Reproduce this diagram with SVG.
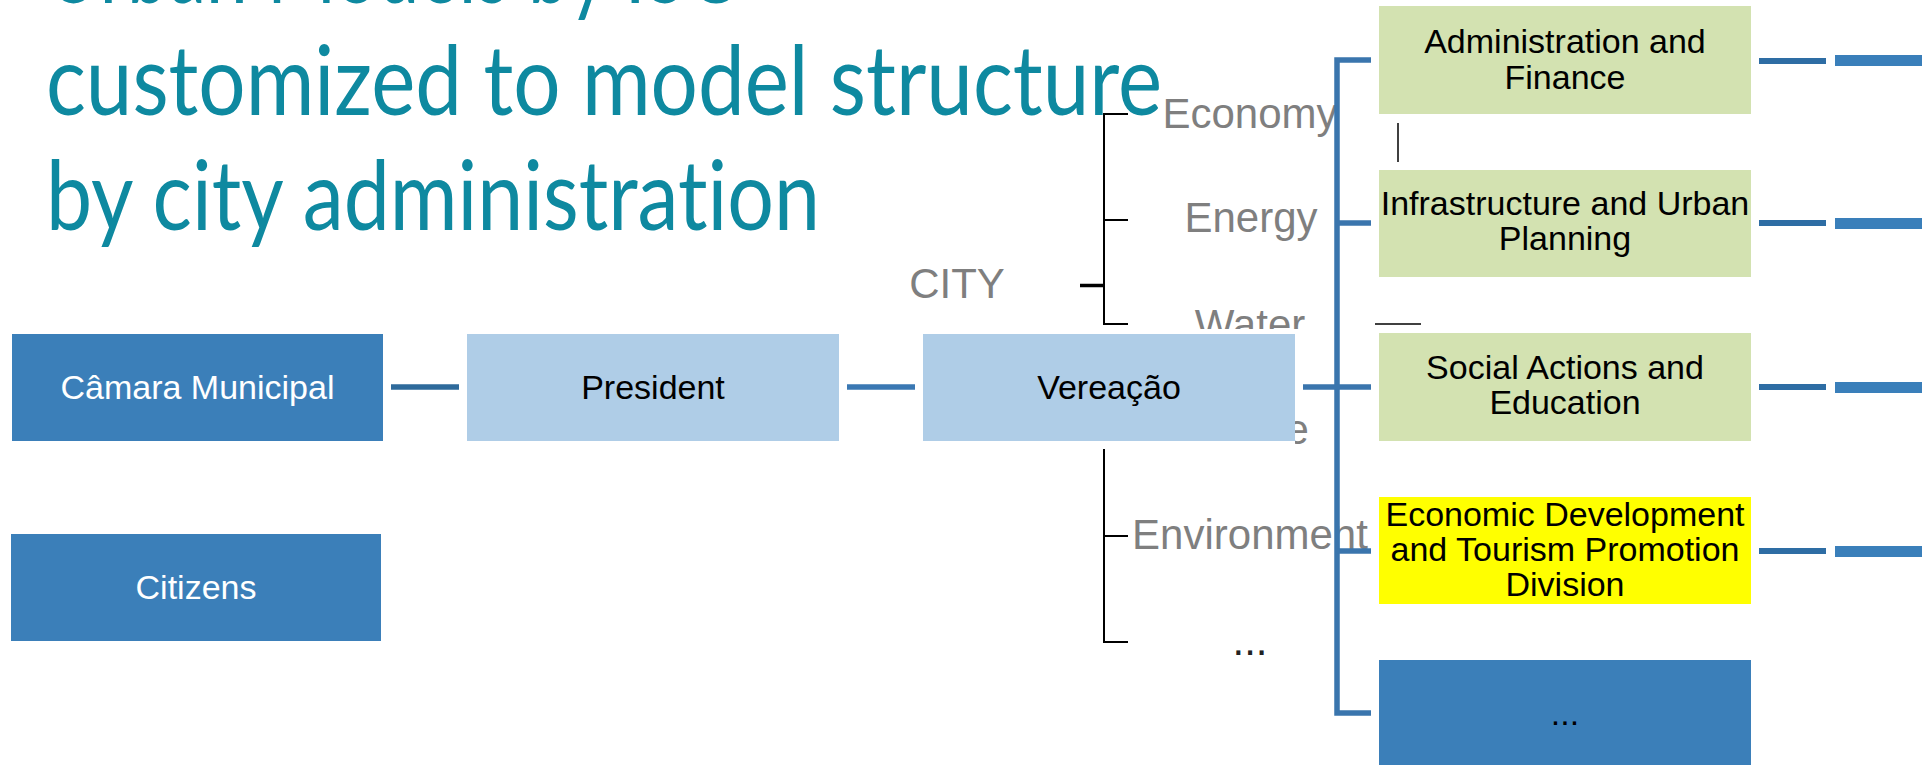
<svg xmlns="http://www.w3.org/2000/svg" width="1930" height="765" viewBox="0 0 1930 765">
<style>
.title{font-family:Lato,"Open Sans",sans-serif;font-size:96px;font-weight:400;fill:#0E89A0;font-variant-ligatures:none;}
.lbl{font-family:"Liberation Sans",Arial,sans-serif;font-size:42px;fill:#7F7F7F;text-anchor:middle;}
.nt{font-family:"Liberation Sans",Arial,sans-serif;font-size:34px;fill:#000;text-anchor:middle;}
.wt{fill:#FFFFFF;}
.dark{fill:#3B7FB9;}
.light{fill:#AFCDE7;}
.green{fill:#D3E2B1;}
.yellow{fill:#FFFF00;}
.bl{stroke:#3A75AD;stroke-width:5.5;fill:none;}
.tk{stroke:#000;stroke-width:2;fill:none;}
</style>
<defs>
<clipPath id="cw"><rect x="1150" y="280" width="200" height="49"/></clipPath>
<clipPath id="cs"><rect x="1295" y="400" width="30" height="60"/></clipPath>
</defs>
<rect width="1930" height="765" fill="#FFFFFF"/>
<g id="title">
<text class="title" x="46" y="3" textLength="700" lengthAdjust="spacingAndGlyphs">Urban Models by ISO</text>
<text class="title" x="46" y="115" textLength="1116" lengthAdjust="spacingAndGlyphs">customized to model structure</text>
<text class="title" x="46" y="230" textLength="774" lengthAdjust="spacingAndGlyphs">by city administration</text>
</g>
<g id="city-tree">
<text class="lbl" x="957" y="298">CITY</text>
<text class="lbl" x="1250" y="128">Economy</text>
<text class="lbl" x="1251" y="232">Energy</text>
<text class="lbl" x="1250" y="339" clip-path="url(#cw)">Water</text>
<text class="lbl" x="1250" y="444" clip-path="url(#cs)">Waste</text>
<text class="lbl" x="1250" y="549">Environment</text>
<text class="lbl" x="1250" y="655" style="fill:#222">...</text>
</g>
<g id="connectors">
<line x1="391" y1="387" x2="459" y2="387" stroke="#2E6A9B" stroke-width="5.5"/>
<line x1="847" y1="387" x2="915" y2="387" stroke="#3A78B3" stroke-width="5.5"/>
<path class="bl" d="M1371,60 H1337 V713 H1371"/>
<line class="bl" x1="1337" y1="223" x2="1371" y2="223"/>
<line class="bl" x1="1303" y1="387" x2="1371" y2="387"/>
<line class="bl" x1="1337" y1="551" x2="1371" y2="551"/>
<path class="tk" d="M1128,114 H1104 V324 H1128 M1104,220 H1128"/>
<line x1="1080" y1="285.5" x2="1104" y2="285.5" stroke="#000" stroke-width="3.5"/>
<path class="tk" d="M1104,449 V642 H1128 M1104,536 H1128"/>
<line x1="1398" y1="123" x2="1398" y2="162" stroke="#000" stroke-width="1.5"/>
<line x1="1375" y1="324" x2="1421" y2="324" stroke="#000" stroke-width="1.5"/>
<g fill="#2E6DA4">
<rect x="1759" y="58" width="67" height="6"/>
<rect x="1759" y="220" width="67" height="6"/>
<rect x="1759" y="384" width="67" height="6"/>
<rect x="1759" y="548" width="67" height="6"/>
</g>
<g fill="#3A7FBA">
<rect x="1835" y="55" width="87" height="11"/>
<rect x="1835" y="218" width="87" height="11"/>
<rect x="1835" y="382" width="87" height="11"/>
<rect x="1835" y="546" width="87" height="11"/>
</g>
</g>
<g id="camara">
<rect class="dark" x="12" y="334" width="371" height="107"/>
<text class="nt wt" x="197.5" y="399">Câmara Municipal</text>
</g>
<g id="citizens">
<rect class="dark" x="11" y="534" width="370" height="107"/>
<text class="nt wt" x="196" y="599">Citizens</text>
</g>
<g id="president">
<rect class="light" x="467" y="334" width="372" height="107"/>
<text class="nt" x="653" y="399">President</text>
</g>
<g id="vereacao">
<rect class="light" x="923" y="334" width="372" height="107"/>
<text class="nt" x="1109" y="399">Vereação</text>
</g>
<g id="admin">
<rect class="green" x="1379" y="6" width="372" height="108"/>
<text class="nt" x="1565" y="53">Administration and</text>
<text class="nt" x="1565" y="88.5">Finance</text>
</g>
<g id="infra">
<rect class="green" x="1379" y="170" width="372" height="107"/>
<text class="nt" x="1565" y="214.5">Infrastructure and Urban</text>
<text class="nt" x="1565" y="250">Planning</text>
</g>
<g id="social">
<rect class="green" x="1379" y="333" width="372" height="108"/>
<text class="nt" x="1565" y="378.5">Social Actions and</text>
<text class="nt" x="1565" y="414">Education</text>
</g>
<g id="econ">
<rect class="yellow" x="1379" y="497" width="372" height="107"/>
<text class="nt" x="1565" y="526">Economic Development</text>
<text class="nt" x="1565" y="561">and Tourism Promotion</text>
<text class="nt" x="1565" y="596">Division</text>
</g>
<g id="more">
<rect class="dark" x="1379" y="660" width="372" height="105"/>
<text class="nt" x="1565" y="725">...</text>
</g>
</svg>
